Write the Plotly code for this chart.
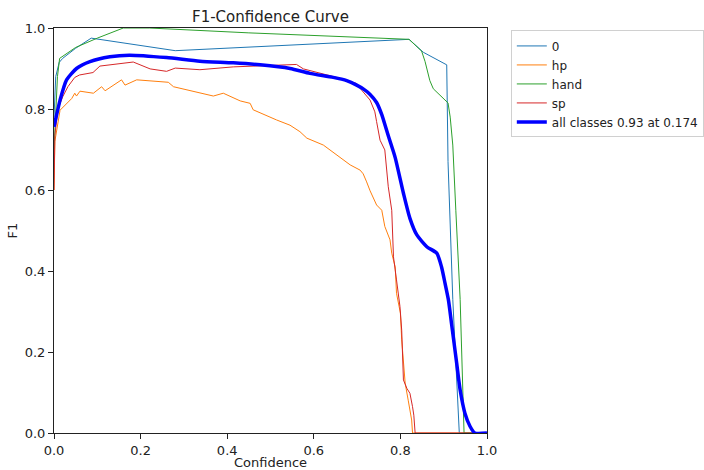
import plotly.graph_objects as go

# F1 vs confidence threshold, per class and averaged
conf_0 = [0.0, 0.004, 0.012, 0.02, 0.05, 0.086, 0.28, 0.82, 0.853, 0.907, 0.910, 0.921, 0.936, 1.0]
f1_0 = [0.78, 0.88, 0.915, 0.925, 0.95, 0.975, 0.944, 0.972, 0.94, 0.909, 0.67, 0.33, 0.0, 0.0]

conf_hp = [0.0, 0.002, 0.014, 0.029, 0.041, 0.048, 0.052, 0.06, 0.091, 0.11, 0.118, 0.156, 0.164,
           0.191, 0.264, 0.276, 0.368, 0.391, 0.403, 0.43, 0.453, 0.46, 0.514, 0.545, 0.568,
           0.584, 0.622, 0.66, 0.684, 0.707, 0.714, 0.722, 0.73, 0.745, 0.757, 0.764, 0.776,
           0.78, 0.788, 0.791, 0.8, 0.803, 0.811, 0.818, 0.826, 0.828, 1.0]
f1_hp = [0.60, 0.72, 0.797, 0.814, 0.826, 0.839, 0.832, 0.844, 0.839, 0.855, 0.845, 0.872, 0.859,
         0.872, 0.866, 0.855, 0.832, 0.839, 0.833, 0.82, 0.814, 0.798, 0.773, 0.76, 0.744,
         0.728, 0.711, 0.682, 0.662, 0.649, 0.64, 0.62, 0.598, 0.563, 0.55, 0.51, 0.477,
         0.444, 0.41, 0.345, 0.296, 0.23, 0.123, 0.081, 0.032, 0.0, 0.0]

conf_hand = [0.0, 0.003, 0.008, 0.013, 0.05, 0.1, 0.16, 0.22, 0.45, 0.82, 0.849, 0.857, 0.868,
             0.876, 0.91, 0.915, 0.921, 0.928, 0.938, 0.947, 1.0]
f1_hand = [0.70, 0.78, 0.88, 0.925, 0.952, 0.975, 1.0, 1.0, 0.988, 0.972, 0.943, 0.917, 0.87,
           0.85, 0.815, 0.78, 0.711, 0.55, 0.33, 0.0, 0.0]

conf_sp = [0.0, 0.002, 0.009, 0.02, 0.032, 0.048, 0.059, 0.09, 0.106, 0.183, 0.222, 0.26, 0.28,
           0.337, 0.414, 0.56, 0.576, 0.66, 0.699, 0.707, 0.73, 0.741, 0.745, 0.753, 0.764,
           0.772, 0.78, 0.784, 0.791, 0.799, 0.803, 0.807, 0.815, 0.822, 0.828, 0.831, 0.834, 1.0]
f1_sp = [0.60, 0.735, 0.80, 0.83, 0.855, 0.878, 0.884, 0.89, 0.906, 0.916, 0.899, 0.893, 0.901,
         0.897, 0.904, 0.91, 0.899, 0.876, 0.863, 0.851, 0.822, 0.793, 0.769, 0.723, 0.699,
         0.608, 0.55, 0.435, 0.378, 0.312, 0.254, 0.131, 0.11, 0.098, 0.065, 0.044, 0.0, 0.0]

conf_all = [0.0, 0.014, 0.029, 0.052, 0.083, 0.129, 0.174, 0.26, 0.337, 0.414, 0.476, 0.545,
            0.591, 0.645, 0.676, 0.699, 0.715, 0.73, 0.745, 0.757, 0.768, 0.778, 0.788, 0.807,
            0.822, 0.838, 0.861, 0.884, 0.895, 0.903, 0.911, 0.918, 0.93, 0.938, 0.949, 0.961,
            0.972, 1.0]
f1_all = [0.756, 0.822, 0.872, 0.90, 0.917, 0.929, 0.933, 0.927, 0.918, 0.914, 0.909, 0.90,
          0.888, 0.878, 0.87, 0.859, 0.849, 0.836, 0.816, 0.786, 0.748, 0.714, 0.68, 0.592,
          0.53, 0.489, 0.46, 0.444, 0.41, 0.37, 0.328, 0.271, 0.172, 0.106, 0.049, 0.016,
          0.0, 0.0]

series = [
    ("0", conf_0, f1_0, "#1f77b4", 1),
    ("hp", conf_hp, f1_hp, "#ff7f0e", 1),
    ("hand", conf_hand, f1_hand, "#2ca02c", 1),
    ("sp", conf_sp, f1_sp, "#d62728", 1),
    ("all classes 0.93 at 0.174", conf_all, f1_all, "blue", 3.5),
]

fig = go.Figure()
for name, xs, ys, color, width in series:
    shape = "spline" if name.startswith("all") else "linear"
    fig.add_trace(go.Scatter(x=xs, y=ys, mode="lines", name=name,
                             line=dict(color=color, width=width, shape=shape, smoothing=0.6)))

axis_common = dict(
    range=[0, 1], dtick=0.2, tickformat=".1f", showgrid=False, zeroline=False,
    showline=True, linecolor="#222", linewidth=1, mirror=True,
    ticks="outside", ticklen=5, tickcolor="#222", automargin=False,
    tickfont=dict(family="DejaVu Sans", size=13, color="#222"),
)

fig.update_layout(
    width=704, height=470,
    margin=dict(l=54, r=217, t=28, b=37, autoexpand=False),
    paper_bgcolor="white", plot_bgcolor="white",
    font=dict(family="DejaVu Sans", color="#222"),
    title=dict(text="F1-Confidence Curve", x=0.5, xref="paper", xanchor="center",
               y=1, yref="paper", yanchor="bottom", pad=dict(b=6),
               font=dict(family="DejaVu Sans", size=15, color="#222")),
    xaxis=dict(axis_common, title=dict(text="Confidence", standoff=2,
                                       font=dict(family="DejaVu Sans", size=13))),
    yaxis=dict(axis_common, title=dict(text="F1", standoff=4,
                                       font=dict(family="DejaVu Sans", size=13))),
    legend=dict(x=1.055, y=0.994, xanchor="left", yanchor="top",
                bordercolor="#d0d0d0", borderwidth=1, bgcolor="white",
                font=dict(family="DejaVu Sans", size=12, color="#222"),
                tracegroupgap=0, itemwidth=30),
)

fig.write_html("out.html")
